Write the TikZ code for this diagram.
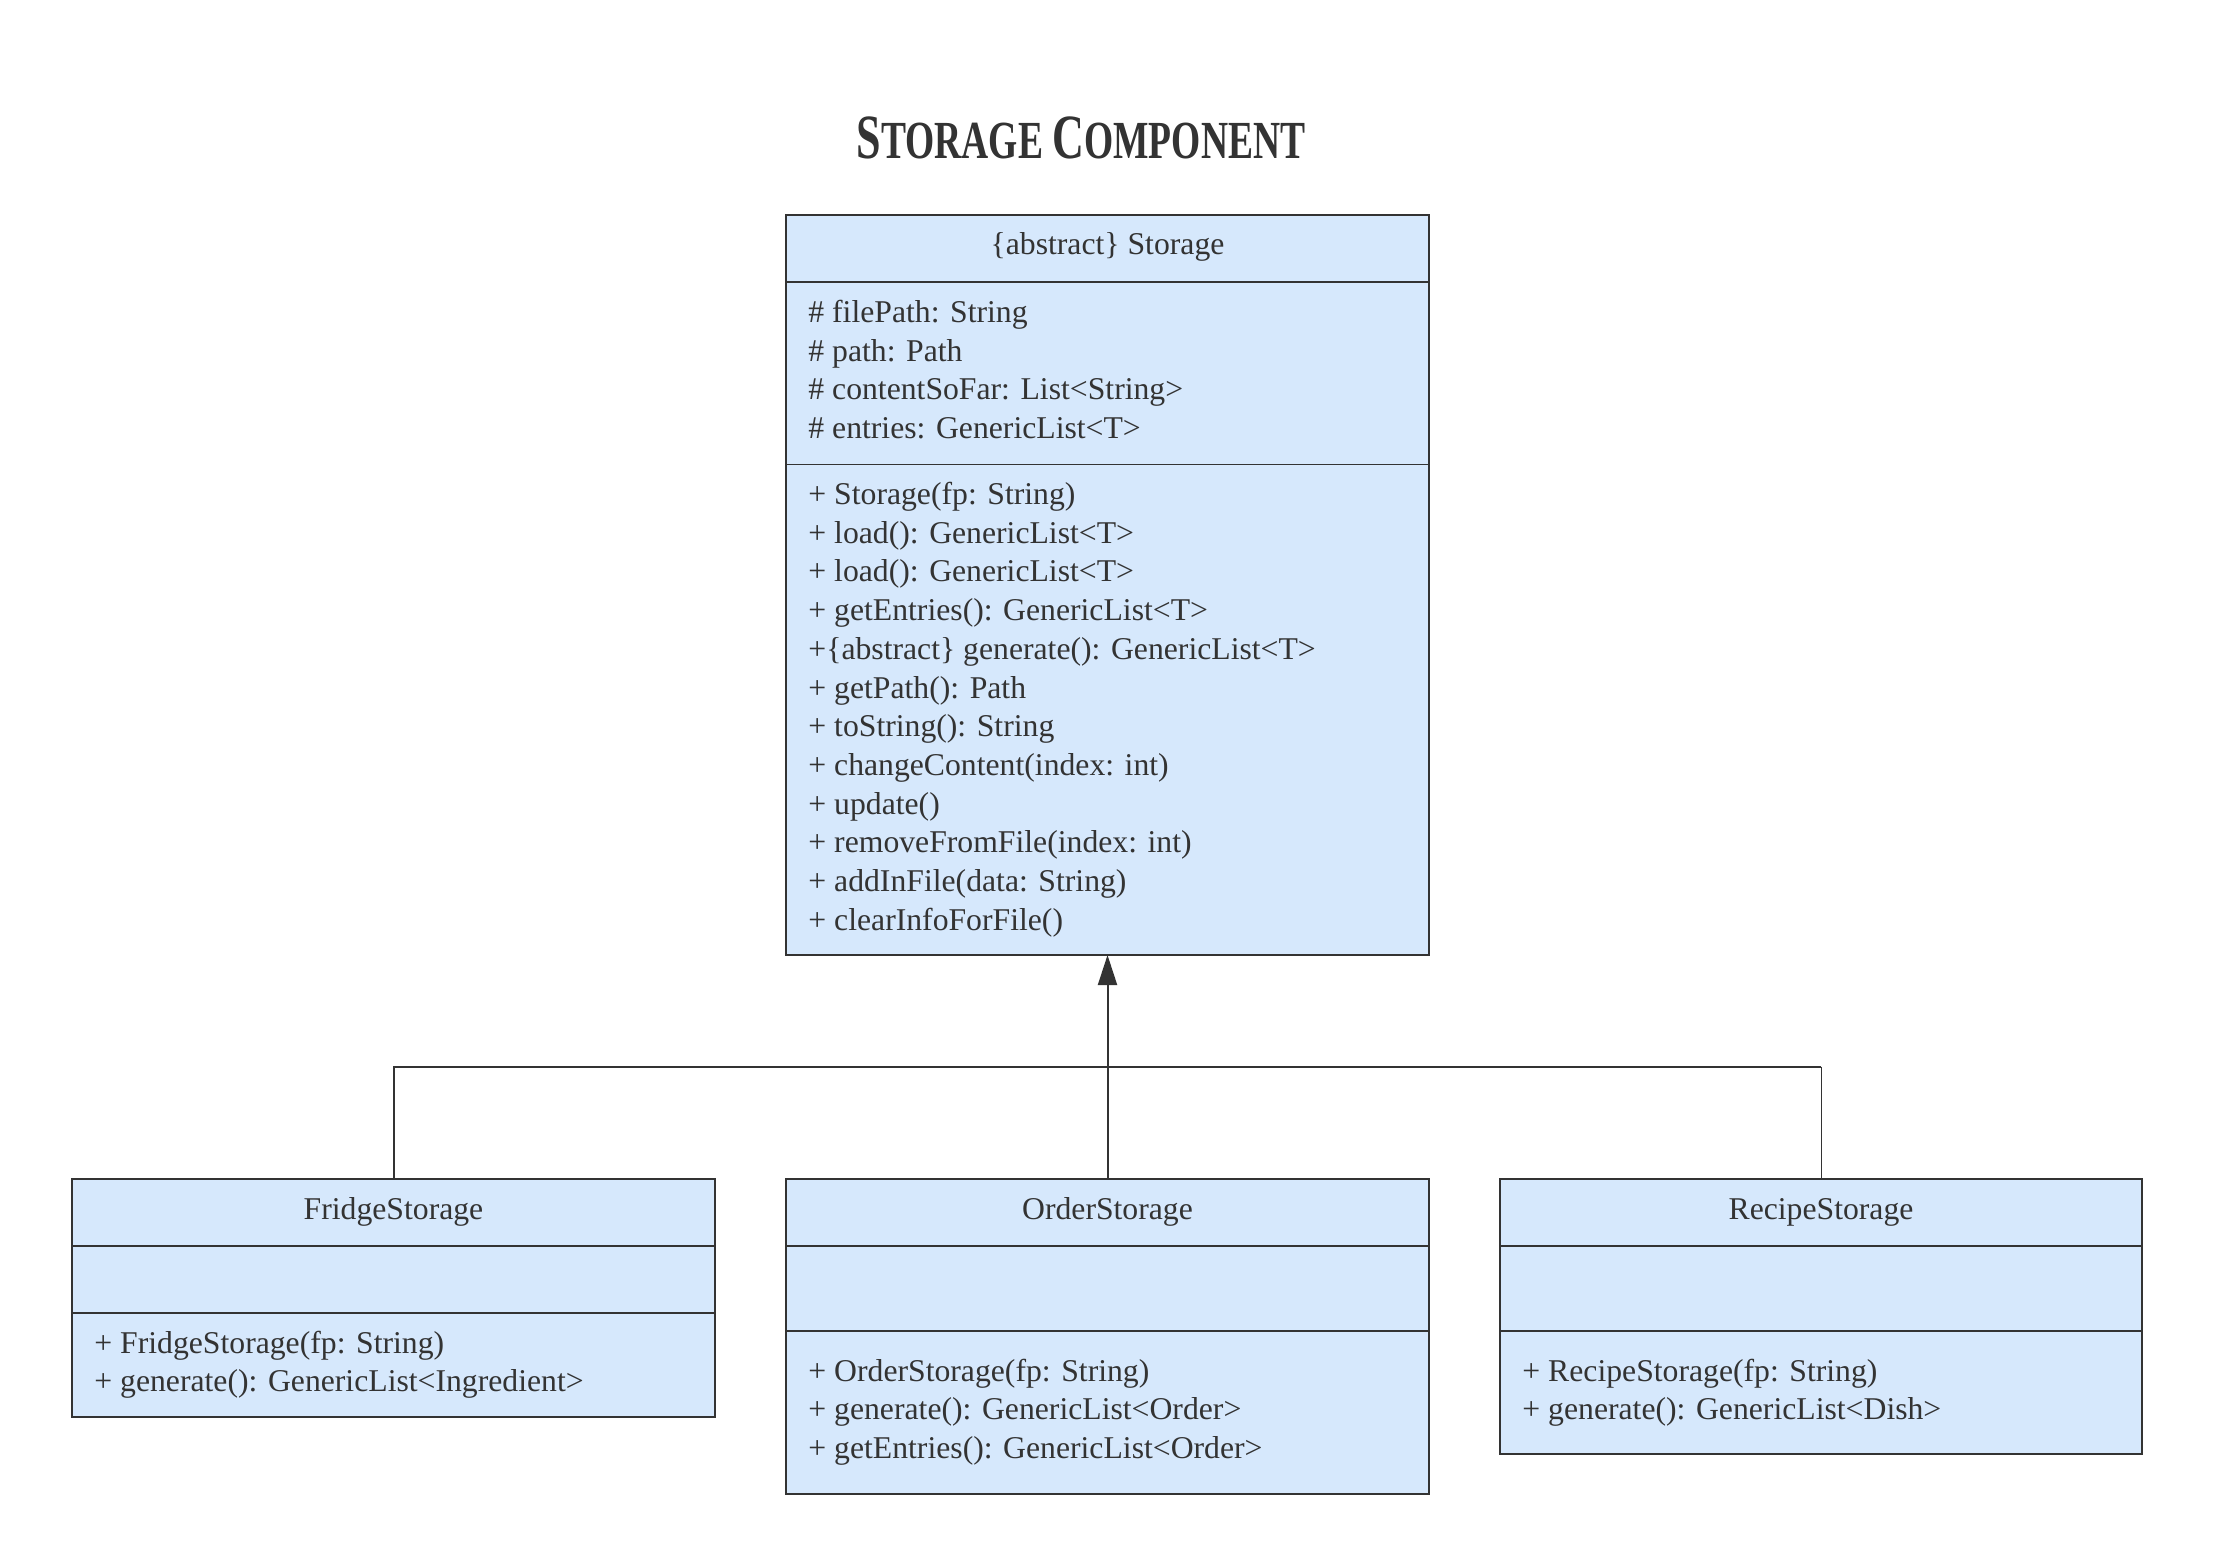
\documentclass[tikz,border=0pt]{standalone}
\usepackage{fontspec}
\setmainfont{Liberation Serif}
\usetikzlibrary{arrows.meta}
\definecolor{ink}{HTML}{333333}
\definecolor{clsfill}{RGB}{214,232,252}
\tikzset{
  cls/.style={draw=ink, fill=clsfill, line width=1pt, anchor=north west, inner sep=0pt, outer sep=0pt},
  sepline/.style={draw=ink, line width=1pt},
  txt/.style={anchor=base west, inner sep=0pt, text=ink, font=\fontsize{15.85}{19}\selectfont},
  hdr/.style={anchor=base, inner sep=0pt, text=ink, font=\fontsize{15.85}{19}\selectfont},
  conn/.style={draw=ink, line width=1pt},
  thinconn/.style={draw=ink, line width=0.5pt},
}
\begin{document}
\begin{tikzpicture}[x=0.5pt,y=-0.5pt]
\useasboundingbox (0,0) rectangle (2214,1566);
% title
\node[anchor=base, text=ink, inner sep=0pt] (title) at (1081,159)
  {\scalebox{0.7}[1]{\bfseries\fontsize{31.5}{31}\selectfont S\fontsize{26.8}{26}\selectfont TORAGE \fontsize{31.5}{31}\selectfont C\fontsize{26.8}{26}\selectfont OMPONENT}};
% Storage
\node[cls, minimum width=321.5pt, minimum height=370pt] (storage) at (786,215) {};
\draw[sepline] (786,282) -- (1429,282);
\draw[sepline, line width=0.5pt] (786,464.5) -- (1429,464.5);
\node[hdr] (sh) at (1107.5,255) {\{abstract\} Storage};
\foreach \t [count=\i from 0] in {\# filePath: String, \# path: Path, \# contentSoFar: List<String>, \# entries: GenericList<T>}
  \node[txt] (sa\i) at (808,{322.5+38.7*\i}) {\t};
\foreach \t [count=\i from 0] in {+ Storage(fp: String), + load(): GenericList<T>, + load(): GenericList<T>, + getEntries(): GenericList<T>, +\{abstract\} generate(): GenericList<T>, + getPath(): Path, + toString(): String, + changeContent(index: int), + update(), + removeFromFile(index: int), + addInFile(data: String), + clearInfoForFile()}
  \node[txt] (sm\i) at (808,{504.5+38.7*\i}) {\t};
% FridgeStorage
\node[cls, minimum width=321.5pt, minimum height=119pt] (fridge) at (72,1179) {};
\draw[sepline] (72,1246) -- (715,1246);
\draw[sepline] (72,1313) -- (715,1313);
\node[hdr] (fh) at (393.5,1219) {FridgeStorage};
\node[txt] (fm0) at (94,1353) {+ FridgeStorage(fp: String)};
\node[txt] (fm1) at (94,1391.7) {+ generate(): GenericList<Ingredient>};
% OrderStorage
\node[cls, minimum width=321.5pt, minimum height=157.5pt] (order) at (786,1179) {};
\draw[sepline] (786,1246) -- (1429,1246);
\draw[sepline] (786,1331) -- (1429,1331);
\node[hdr] (oh) at (1107.5,1219) {OrderStorage};
\node[txt] (om0) at (808,1381) {+ OrderStorage(fp: String)};
\node[txt] (om1) at (808,1419.7) {+ generate(): GenericList<Order>};
\node[txt] (om2) at (808,1458.4) {+ getEntries(): GenericList<Order>};
% RecipeStorage
\node[cls, minimum width=321pt, minimum height=137.5pt] (recipe) at (1500,1179) {};
\draw[sepline] (1500,1246) -- (2142,1246);
\draw[sepline] (1500,1331) -- (2142,1331);
\node[hdr] (rh) at (1821,1219) {RecipeStorage};
\node[txt] (rm0) at (1522,1381) {+ RecipeStorage(fp: String)};
\node[txt] (rm1) at (1522,1419.7) {+ generate(): GenericList<Dish>};
% connectors
\coordinate (junc) at (1107.5,1066.5);
\draw[conn, -{Triangle[length=15pt,width=9.5pt]}] (order.north) -- (storage.south);
\draw[conn] (fridge.north) |- (junc);
\coordinate (rturn) at (recipe.north |- junc);
\draw[conn] (junc) -- (rturn);
\draw[thinconn] (rturn) -- (recipe.north);
\end{tikzpicture}
\end{document}
